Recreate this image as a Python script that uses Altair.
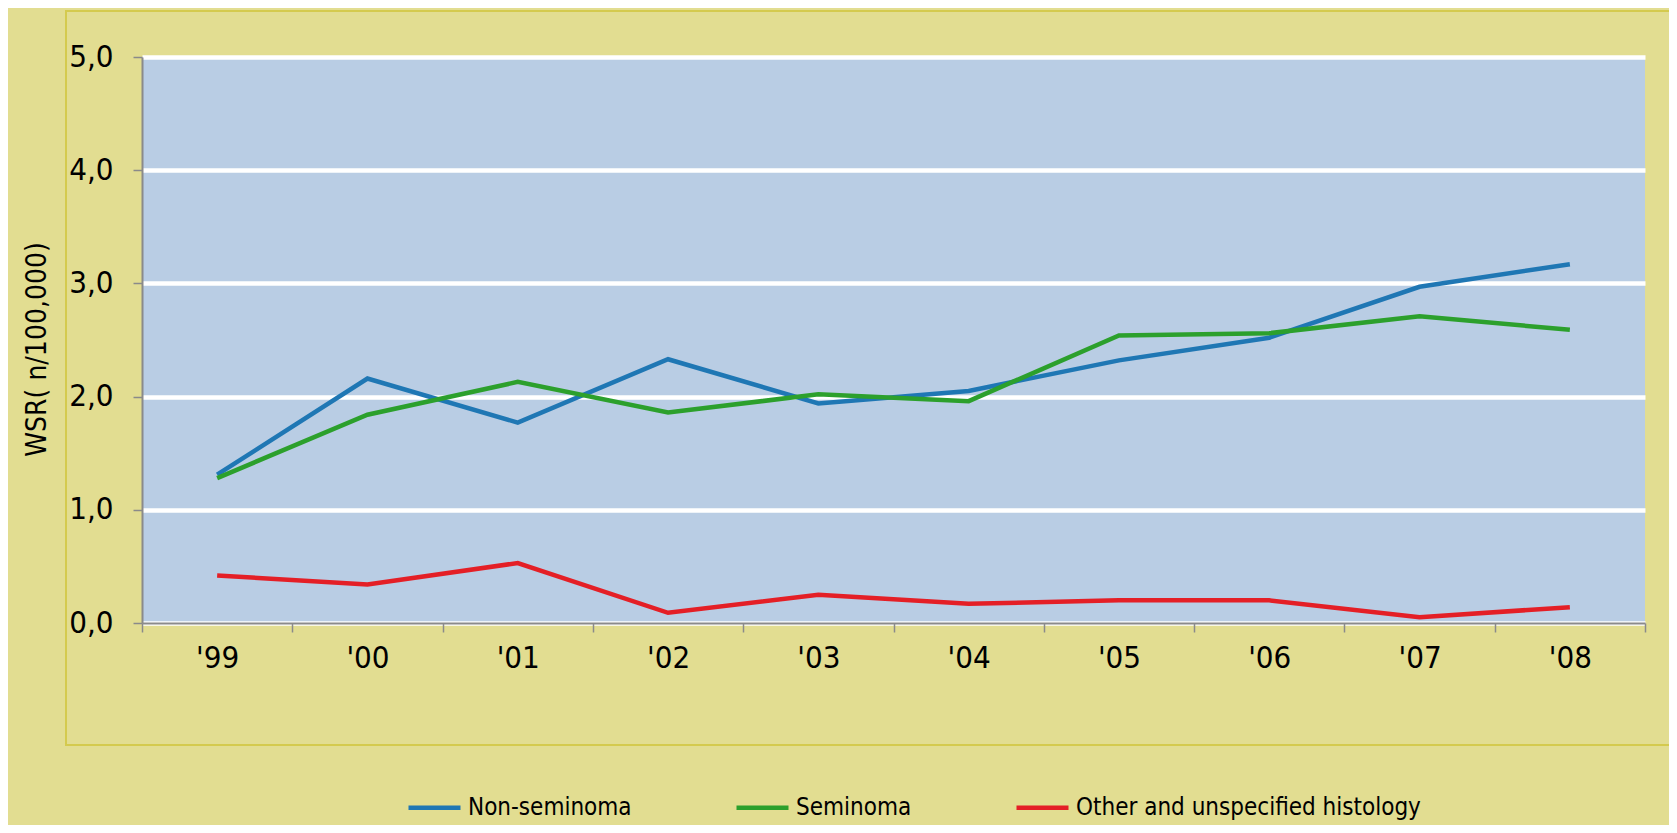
import altair as alt
import pandas as pd

years = ["'99", "'00", "'01", "'02", "'03", "'04", "'05", "'06", "'07", "'08"]
series = ["Non-seminoma", "Seminoma", "Other and unspecified histology"]
colors = ["#1f77b4", "#2ca02c", "#e41f26"]

non_seminoma = [1.31, 2.16, 1.77, 2.33, 1.94, 2.05, 2.32, 2.52, 2.97, 3.17]
seminoma = [1.28, 1.84, 2.13, 1.86, 2.02, 1.96, 2.54, 2.56, 2.71, 2.59]
other = [0.42, 0.34, 0.53, 0.09, 0.25, 0.17, 0.20, 0.20, 0.05, 0.14]

y_ticks = [0, 1, 2, 3, 4, 5]

rows = []
for name, vals in zip(series, [non_seminoma, seminoma, other]):
    for yr, v in zip(years, vals):
        rows.append({"year": yr, "series": name, "value": v})
df = pd.DataFrame(rows)

FONT = "Liberation Sans Narrow, Arial Narrow, DejaVu Sans Condensed, sans-serif"
KHAKI = "#e2dd91"

border = alt.Chart(alt.Data(values=[{"a": 1}])).mark_rect(
    fill=None, stroke="#d4ca4e", strokeWidth=2
).encode(
    x=alt.value(-76), x2=alt.value(1600), y=alt.value(-46), y2=alt.value(688)
)

lines = alt.Chart(df).mark_line(strokeWidth=4.5).encode(
    x=alt.X(
        "year:N",
        sort=years,
        scale=alt.Scale(paddingInner=0, paddingOuter=0),
        axis=alt.Axis(
            title=None,
            labelAngle=0,
            tickBand="extent",
            grid=False,
            domainColor="#8a8a8a",
            domainWidth=2,
            tickColor="#8a8a8a",
            tickWidth=1.5,
            tickSize=9,
            labelPadding=11,
            labelFont=FONT,
            labelFontSize=31,
            labelColor="#000000",
        ),
    ),
    y=alt.Y(
        "value:Q",
        scale=alt.Scale(domain=[0, 5], nice=False),
        axis=alt.Axis(
            title="WSR( n/100,000)",
            values=y_ticks,
            labelExpr="replace(format(datum.value, '.1f'), '.', ',')",
            grid=True,
            gridColor="#ffffff",
            gridWidth=4.5,
            domainColor="#8a8a8a",
            domainWidth=2,
            tickColor="#8a8a8a",
            tickWidth=1.5,
            tickSize=9,
            labelPadding=20,
            labelFont=FONT,
            labelFontSize=31,
            labelColor="#000000",
            titleFont=FONT,
            titleFontSize=28,
            titleFontWeight="normal",
            titleColor="#000000",
            titleAngle=-90,
            titleX=-105,
            titleY=292,
            titleAlign="center",
            titleBaseline="middle",
        ),
    ),
    color=alt.Color(
        "series:N",
        sort=series,
        scale=alt.Scale(domain=series, range=colors),
        legend=alt.Legend(
            title=None,
            orient="none",
            direction="horizontal",
            legendX=264,
            legendY=722,
            symbolType="stroke",
            symbolSize=2704,
            symbolStrokeWidth=4.5,
            labelFont=FONT,
            labelFontSize=24,
            labelColor="#000000",
            labelOffset=5,
            labelLimit=0,
            columnPadding=95,
        ),
    ),
)

chart = alt.layer(border, lines).properties(
    width=1503,
    height=566,
    background=KHAKI,
    padding={"left": 134, "top": 49, "right": 24, "bottom": 202},
    autosize=alt.AutoSizeParams(type="none"),
).configure_view(fill="#b9cde4", stroke=None)

chart.save("out.html", embed_options={"renderer": "svg", "actions": False})
